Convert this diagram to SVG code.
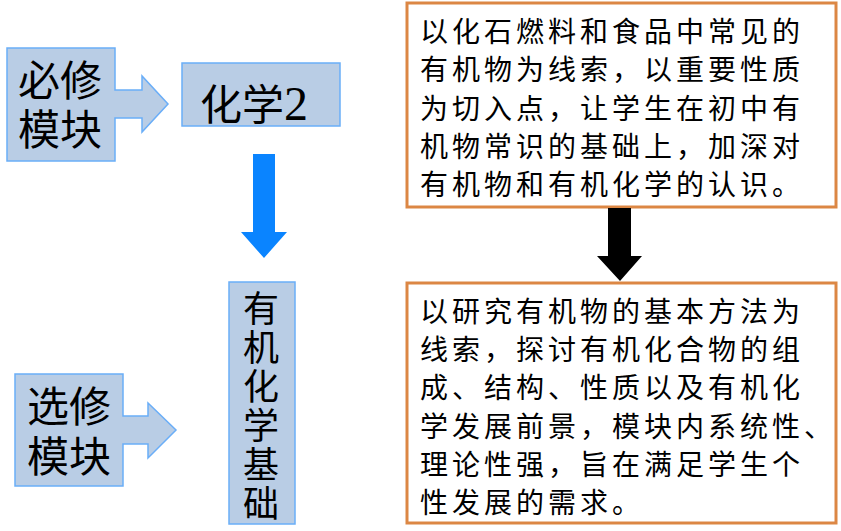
<svg xmlns="http://www.w3.org/2000/svg" width="841" height="531" viewBox="0 0 841 531">
<style>
.blue{fill:#B9CDE5;stroke:#6AAEF8;stroke-width:1.5}
.org{fill:#fff;stroke:#DC8744;stroke-width:3}
.big{font-family:"Noto Sans CJK SC",sans-serif;font-size:42px;fill:#000}
.vt{font-family:"Noto Sans CJK SC",sans-serif;font-size:36px;letter-spacing:3px;fill:#000;writing-mode:vertical-rl;text-orientation:upright}
.para{font-family:"Noto Sans CJK SC",sans-serif;font-size:28px;letter-spacing:4px;fill:#000}
</style>
<rect width="841" height="531" fill="#fff"/>
<g id="bixiu">
<path class="blue" d="M7,48 H115 V90 H142 V76 L168,104 L142,132 V118 H115 V161 H7 Z"/>
<text class="big" x="18" y="96">必修</text>
<text class="big" x="18" y="145">模块</text>
</g>
<g id="huaxue2">
<rect class="blue" x="182" y="63" width="158" height="63"/>
<text class="big" x="200" y="120" font-size="46">化学<tspan font-family="Liberation Serif, serif" font-size="48">2</tspan></text>
</g>
<g id="xuanxiu">
<path class="blue" d="M15,374 H123 V416 H148 V403 L176,430 L148,458 V444 H123 V486 H15 Z"/>
<text class="big" x="27" y="422">选修</text>
<text class="big" x="27" y="472">模块</text>
</g>
<g id="youji">
<rect class="blue" x="229" y="282" width="66" height="242"/>
<text class="vt" x="261" y="290">有机化学基础</text>
</g>
<g id="box1">
<rect class="org" x="407" y="3" width="429" height="204"/>
<text class="para">
<tspan x="420" y="42">以化石燃料和食品中常见的</tspan>
<tspan x="420" y="80">有机物为线索，以重要性质</tspan>
<tspan x="420" y="119">为切入点，让学生在初中有</tspan>
<tspan x="420" y="157">机物常识的基础上，加深对</tspan>
<tspan x="420" y="195">有机物和有机化学的认识。</tspan>
</text>
</g>
<g id="box2">
<rect class="org" x="407" y="283" width="429" height="240"/>
<text class="para">
<tspan x="420" y="322">以研究有机物的基本方法为</tspan>
<tspan x="420" y="360">线索，探讨有机化合物的组</tspan>
<tspan x="420" y="398">成、结构、性质以及有机化</tspan>
<tspan x="420" y="437">学发展前景，模块内系统性、</tspan>
<tspan x="420" y="475">理论性强，旨在满足学生个</tspan>
<tspan x="420" y="513">性发展的需求。</tspan>
</text>
</g>
<g id="connectors">
<path d="M253,154 H275 V232 H287 L264,258 L241,232 H253 Z" fill="#0A84FF"/>
<path d="M608,208 H631 V256 H642 L620,281 L597,256 H608 Z" fill="#000"/>
</g>
</svg>
